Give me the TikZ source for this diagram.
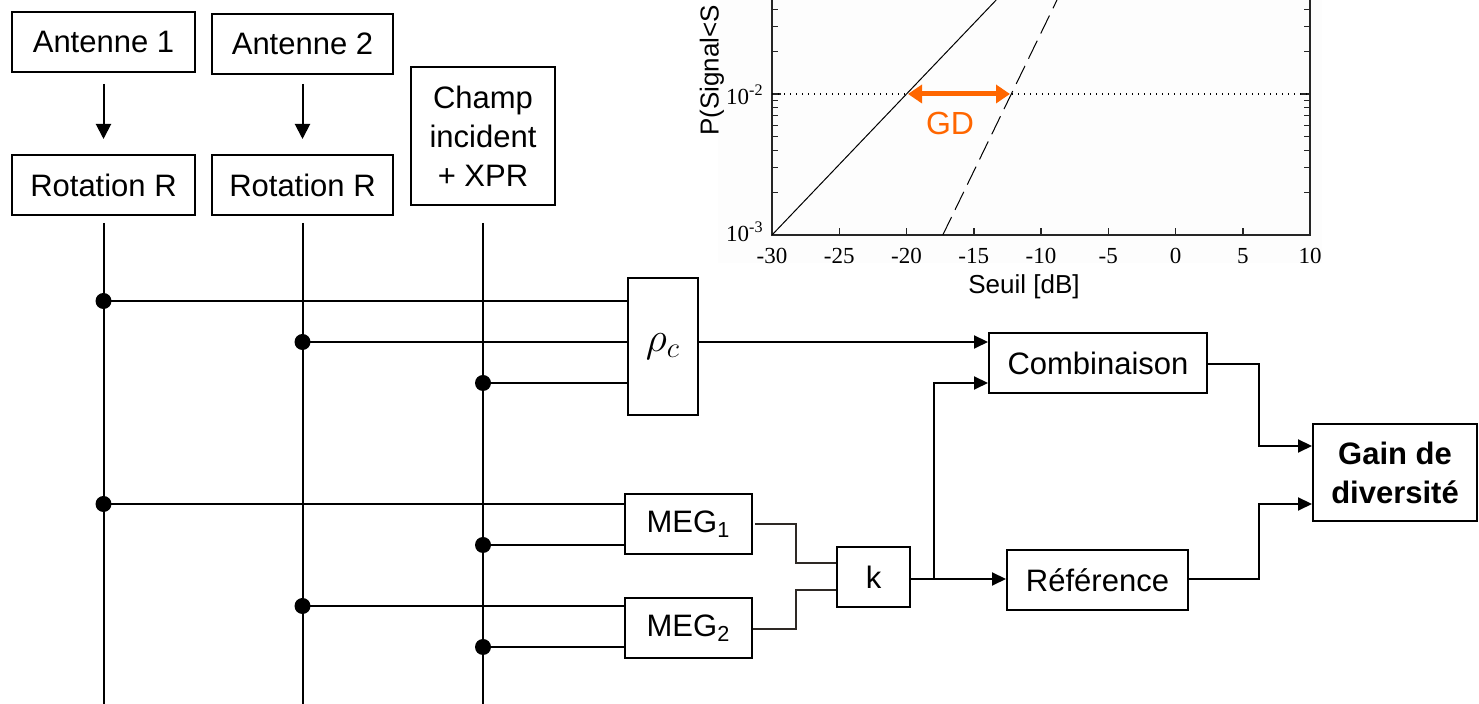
\documentclass[tikz,border=0pt]{standalone}
\usepackage{fontspec}
\setmainfont{Liberation Sans}
\newfontfamily\plotserif{Liberation Serif}
\usetikzlibrary{arrows.meta,calc}
\definecolor{gdorange}{HTML}{FF6600}
\definecolor{megline}{HTML}{2E2925}
\definecolor{plotbg}{HTML}{FDFDFD}
\begin{document}
\begin{tikzpicture}[x=0.5pt,y=-0.5pt,
  box/.style={draw, line width=1pt, inner sep=0pt, align=center,
    font=\fontsize{15.5}{19.5}\selectfont},
  wire/.style={line width=1pt},
  arr/.style={wire, -{Triangle[length=7pt,width=6.5pt]}},
  thinwire/.style={line width=0.8pt, draw=megline},
  jdot/.style={circle, fill, inner sep=0pt, minimum size=8pt},
  ticklab/.style={font=\plotserif\fontsize{11.5}{13}\selectfont, inner sep=0pt},
  axlab/.style={font=\fontsize{13}{15}\selectfont}]
\useasboundingbox (0,0) rectangle (1479,704);
\coordinate (bot) at (0,704);

% ---------- plot ----------
\fill[plotbg] (718,0) rectangle (1322,263);
\draw[line width=0.75pt, black!85] (772,0) -- (772,235) -- (1310,235) -- (1310,0);
\foreach \v in {-25,-20,...,5} {
  \draw[line width=0.75pt, black!85] ({772+(\v+30)*13.45},235) -- ++(0,-7);
}
\foreach \v in {-30,-25,...,10} {
  \node[ticklab] at ({772+(\v+30)*13.45},256) {\v};
}
\foreach \m in {2,...,9} {
  \pgfmathsetmacro\yy{235-log10(\m)*141}
  \draw[line width=0.6pt, black!85] (772,\yy) -- ++(6,0);
  \draw[line width=0.6pt, black!85] (1310,\yy) -- ++(-6,0);
}
\foreach \m in {2,3,4} {
  \pgfmathsetmacro\yy{94-log10(\m)*141}
  \draw[line width=0.6pt, black!85] (772,\yy) -- ++(6,0);
  \draw[line width=0.6pt, black!85] (1310,\yy) -- ++(-6,0);
}
\draw[line width=0.6pt, black!85] (772,94) -- ++(9,0);
\draw[line width=0.6pt, black!85] (1310,94) -- ++(-9,0);
\node[ticklab, anchor=east] at (764,232) {10\textsuperscript{-3}};
\node[ticklab, anchor=east] at (764,95) {10\textsuperscript{-2}};
\draw[line width=0.5pt] (772,235) -- (996.2,0);
\draw[line width=0.5pt, dash pattern=on 10pt off 4pt] (942.8,235) -- (1057,0);
\draw[line width=0.6pt, dash pattern=on 0.6pt off 2.4pt] (772,94) -- (1310,94);
\draw[gdorange, line width=2.5pt,
  {Triangle[length=7pt,width=9pt]}-{Triangle[length=7pt,width=9pt]}] (908,94) -- (1010,94);
\node[text=gdorange, font=\fontsize{16}{19}\selectfont] (gd) at (950,123) {GD};
\node[axlab] (xl) at (1024,287) {Seuil [dB]};
\node[axlab, rotate=90, anchor=west, inner sep=0pt] (yl) at (712,136) {P(Signal<S};

% ---------- boxes ----------
\node[box, minimum width=91.5pt, minimum height=30pt] (ant1) at (103.5,42) {Antenne 1};
\node[box, minimum width=90.5pt, minimum height=30pt] (ant2) at (302.5,44) {Antenne 2};
\node[box, minimum width=91.5pt, minimum height=30pt] (rot1) at (103.5,185) {Rotation R};
\node[box, minimum width=90.5pt, minimum height=30pt] (rot2) at (302.5,185) {Rotation R};
\node[box, minimum width=72pt, minimum height=69pt] (champ) at (483,136) {Champ\\incident\\+ XPR};
\node[box, minimum width=35pt, minimum height=68.5pt] (rho) at (663,346.5) {\fontsize{21}{24}\selectfont$\rho_c$};
\node[box, minimum width=109pt, minimum height=30pt] (comb) at (1098,363) {Combinaison};
\node[box, minimum width=90.5pt, minimum height=30pt] (ref) at (1097.5,580) {Référence};
\node[box, minimum width=82pt, minimum height=48.5pt] (gain) at (1395,472.5) {\bfseries Gain de\\\bfseries diversité};
\node[box, minimum width=63.5pt, minimum height=30pt] (meg1) at (688.5,524) {MEG\textsubscript{1}};
\node[box, minimum width=63.5pt, minimum height=30pt] (meg2) at (688.5,628) {MEG\textsubscript{2}};
\node[box, minimum width=36.5pt, minimum height=30pt] (k) at (873.5,577) {k};

% ---------- arrows top ----------
\draw[wire, -{Triangle[length=7.5pt,width=7.5pt]}, shorten <=5.5pt, shorten >=7.5pt] (ant1.south) -- (rot1.north);
\draw[wire, -{Triangle[length=7.5pt,width=7.5pt]}, shorten <=4.5pt, shorten >=7.5pt] (ant2.south) -- (rot2.north);

% ---------- vertical buses ----------
\draw[wire] ([yshift=-3.5pt]rot1.south) -- (rot1.south |- bot);
\draw[wire] ([yshift=-3.5pt]rot2.south) -- (rot2.south |- bot);
\draw[wire] ([yshift=-8.5pt]champ.south) -- (champ.south |- bot);

% ---------- junctions ----------
\node[jdot] (d1) at (103.5,301) {};
\node[jdot] (d2) at (302.5,342) {};
\node[jdot] (d3) at (483,383) {};
\node[jdot] (d4) at (103.5,504) {};
\node[jdot] (d5) at (483,545) {};
\node[jdot] (d6) at (302.5,606) {};
\node[jdot] (d7) at (483,647) {};

\draw[wire] (d1.center) -- (d1.center -| rho.west);
\draw[wire] (d2.center) -- (d2.center -| rho.west);
\draw[wire] (d3.center) -- (d3.center -| rho.west);
\draw[wire] (d4.center) -- (d4.center -| meg1.west);
\draw[wire] (d5.center) -- (d5.center -| meg1.west);
\draw[wire] (d6.center) -- (d6.center -| meg2.west);
\draw[wire] (d7.center) -- (d7.center -| meg2.west);

% ---------- rho to combinaison ----------
\draw[arr] (rho.east |- d2.center) -- (comb.west |- d2.center);

% ---------- MEG to k ----------
\coordinate (m1o) at (755,524);
\coordinate (m2o) at (753,629);
\draw[thinwire] (m1o) -| (796,563) -- (k.west |- 0,563);
\draw[thinwire] (m2o) -| (796,590) -- (k.west |- 0,590);

% ---------- k to reference / combinaison ----------
\coordinate (kout) at (0,579);
\coordinate (br) at (934,579);
\draw[arr] (k.east |- kout) -- (ref.west |- kout);
\draw[arr] (br) |- (comb.west |- d3.center);

% ---------- outputs to gain ----------
\coordinate (cx) at (1259,364);
\draw[arr] (comb.east |- cx) -- (cx) |- (gain.west |- 0,446);
\draw[arr] (ref.east |- kout) -| (1259,504) -- (gain.west |- 0,504);
\end{tikzpicture}
\end{document}
